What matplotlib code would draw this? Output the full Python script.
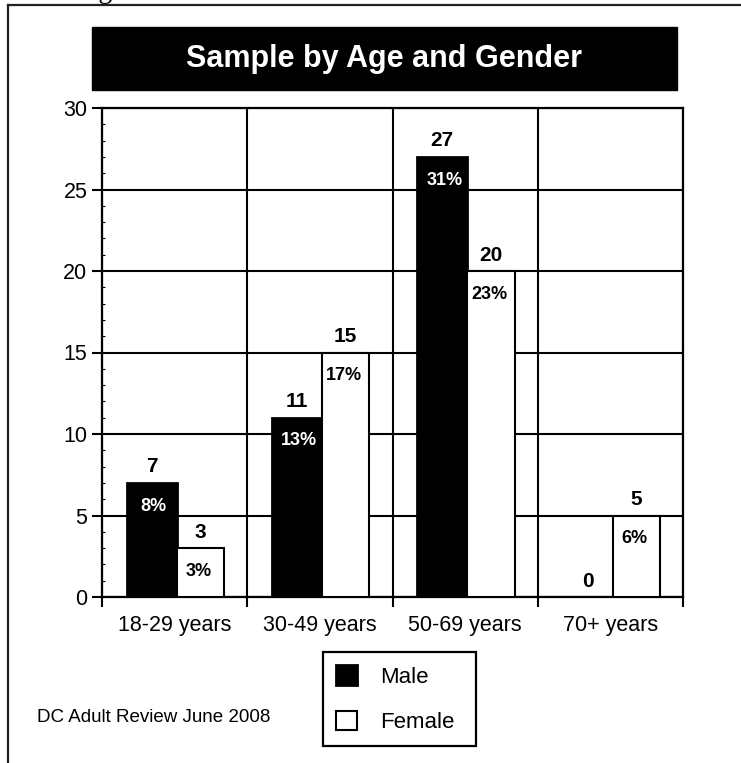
import numpy as np
import matplotlib
matplotlib.use("Agg")
import matplotlib.pyplot as plt
from matplotlib.lines import Line2D
from matplotlib.patches import Rectangle

plt.rcParams['font.family'] = ['Liberation Sans', 'DejaVu Sans']

# ---- data ----
age_groups = ["18-29 years", "30-49 years", "50-69 years", "70+ years"]
male_counts = [7, 11, 27, 0]
female_counts = [3, 15, 20, 5]
male_pct = [8, 13, 31, None]
female_pct = [3, 17, 23, 6]
y_ticks = [0, 5, 10, 15, 20, 25, 30]

W, H = 741, 763
fig = plt.figure(figsize=(W / 100, H / 100), dpi=100)


def fx(px):
    return px / W


def fy(py):
    return 1 - py / H


# outer frame (top and left edges)
fig.add_artist(Line2D([fx(8), 1.0], [fy(5), fy(5)], color='#222222', lw=1.6))
fig.add_artist(Line2D([fx(8), fx(8)], [fy(5), 0.0], color='#222222', lw=1.6))

# caption running off the top edge
fig.text(fx(75), fy(-2), "Figure", family=['Liberation Serif', 'DejaVu Serif'],
         fontsize=20, ha='left', va='baseline', color='black')

# title banner
fig.add_artist(Rectangle((fx(92), fy(90)), fx(677) - fx(92), fy(27) - fy(90),
                         facecolor='black', edgecolor='black', transform=fig.transFigure))
fig.text((fx(92) + fx(677)) / 2, (fy(27) + fy(90)) / 2, "Sample by Age and Gender",
         color='white', fontsize=22, fontweight='bold', ha='center', va='center')

ax = fig.add_axes([fx(102), fy(597), fx(683) - fx(102), fy(108) - fy(597)])

x = np.arange(len(age_groups))
male_off, male_w = -0.1575, 0.345
fem_off, fem_w = 0.1775, 0.325

male_bars = ax.bar(x + male_off, male_counts, width=male_w, color='black',
                   edgecolor='black', linewidth=2.0, label='Male', zorder=3)
fem_bars = ax.bar(x + fem_off, female_counts, width=fem_w, color='white',
                  edgecolor='black', linewidth=1.5, label='Female', zorder=3)

for xi, v, p in zip(x + male_off, male_counts, male_pct):
    ax.annotate(str(v), (xi, v), xytext=(0, 7.5), textcoords='offset points',
                ha='center', va='baseline', fontsize=15, fontweight='bold', zorder=5)
    if p is not None:
        ax.annotate(f"{p}%", (xi, v), xytext=(1.5, -20), textcoords='offset points',
                    ha='center', va='baseline', fontsize=13, fontweight='bold',
                    color='white', zorder=5)
for xi, v, p in zip(x + fem_off, female_counts, female_pct):
    ax.annotate(str(v), (xi, v), xytext=(0, 7.5), textcoords='offset points',
                ha='center', va='baseline', fontsize=15, fontweight='bold', zorder=5)
    if p is not None:
        ax.annotate(f"{p}%", (xi, v), xytext=(-1, -20), textcoords='offset points',
                    ha='center', va='baseline', fontsize=13, fontweight='bold',
                    color='black', zorder=5)

ax.set_xlim(-0.5, len(age_groups) - 0.5)
ax.set_ylim(0, 30)

# category boundaries carry the gridlines and tick marks; names sit on minor ticks
bounds = np.arange(len(age_groups) + 1) - 0.5
ax.set_xticks(bounds)
ax.set_xticklabels([])
ax.set_xticks(x, minor=True)
ax.set_xticklabels(age_groups, minor=True, fontsize=15.5)
ax.tick_params(axis='x', which='major', direction='out', length=7.5, width=1.5)
ax.tick_params(axis='x', which='minor', length=0, pad=13)

ax.set_yticks(y_ticks)
ax.set_yticklabels([str(t) for t in y_ticks], fontsize=15.5)
ax.set_yticks(np.arange(0, 31, 1), minor=True)
ax.tick_params(axis='y', which='major', direction='out', length=7.5, width=1.5, pad=3)
ax.tick_params(axis='y', which='minor', direction='in', length=2.5, width=0.8)

ax.set_axisbelow(True)
ax.grid(True, which='major', color='black', linewidth=1.5)
for s in ax.spines.values():
    s.set_linewidth(1.6)
    s.set_color('black')

leg_box = (fx(323), fy(743), fx(476) - fx(323), fy(652) - fy(743))
fig.legend(handles=[male_bars, fem_bars], labels=['Male', 'Female'],
           loc='upper left', bbox_to_anchor=leg_box, mode='expand',
           bbox_transform=fig.transFigure, fontsize=16, frameon=True,
           fancybox=False, edgecolor='black', framealpha=1,
           handlelength=0.95, handleheight=0.95, handletextpad=1.0,
           labelspacing=1.05, borderpad=0.6, borderaxespad=0)
leg = fig.legends[0]
leg.get_frame().set_linewidth(1.6)

fig.text(fx(37), fy(718), "DC Adult Review June 2008", fontsize=13.5,
         ha='left', va='center')

fig.savefig("out.png", dpi=100, facecolor='white')
